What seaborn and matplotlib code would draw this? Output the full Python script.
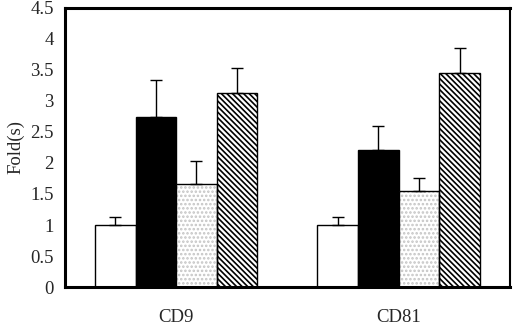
import matplotlib
matplotlib.use("Agg")
import matplotlib.pyplot as plt
import seaborn as sns
import pandas as pd
import numpy as np

categories = ["CD9", "CD81"]
conditions = ["A", "B", "C", "D"]
values_cd9 = [1.0, 2.74, 1.66, 3.13]
errors_cd9 = [0.13, 0.60, 0.37, 0.40]
values_cd81 = [1.0, 2.21, 1.55, 3.45]
errors_cd81 = [0.13, 0.38, 0.21, 0.40]
yticks = [0, 0.5, 1, 1.5, 2, 2.5, 3, 3.5, 4, 4.5]

sns.set_theme(style="white")
plt.rcParams["font.family"] = ["Liberation Serif", "DejaVu Serif"]
plt.rcParams["hatch.linewidth"] = 1.2

rows = []
for c, v in zip(conditions, values_cd9):
    rows.append({"group": "CD9", "cond": c, "value": v})
for c, v in zip(conditions, values_cd81):
    rows.append({"group": "CD81", "cond": c, "value": v})
df = pd.DataFrame(rows)
errs = {"CD9": errors_cd9, "CD81": errors_cd81}

fig = plt.figure(figsize=(5.15, 3.32), dpi=100)
ax = fig.add_axes([0.126, 0.1355, 0.864, 0.8405])

sns.barplot(data=df, x="group", y="value", hue="cond", order=categories,
            hue_order=conditions, palette=["white", "black", "white", "white"],
            errorbar=None, width=0.73, gap=0, ax=ax, legend=False,
            edgecolor="black", linewidth=1.0)

bar_containers = list(ax.containers)
for hi, cont in enumerate(bar_containers):
    for gi, p in enumerate(list(cont.patches)):
        if hi == 2:
            p.set_hatch("....")
            p.set_edgecolor("#c4c4c4")
            p.set_linewidth(0)
            ax.bar(p.get_x() + p.get_width() / 2, p.get_height(), width=p.get_width(),
                   fill=False, edgecolor="black", linewidth=1.0, zorder=p.get_zorder() + 0.1)
        elif hi == 3:
            p.set_hatch("\\\\\\\\\\\\")
            p.set_edgecolor("black")
        x = p.get_x() + p.get_width() / 2
        y = p.get_height()
        e = errs[categories[gi]][hi]
        ax.errorbar([x], [y], yerr=[[0], [e]], fmt="none", ecolor="black",
                    elinewidth=1.0, capsize=4, capthick=1.0, zorder=1)

ax.set_ylim(0, 4.5)
ax.set_xlim(-0.5, 1.5)
ax.set_yticks(yticks)
ax.set_yticklabels([("%g" % t) for t in yticks], fontsize=13.5)
ax.set_xticks([0, 1])
ax.set_xticklabels(categories, fontsize=13.5)
ax.tick_params(axis="x", length=0, pad=16)
ax.tick_params(axis="y", length=0, pad=8)
ax.set_xticks([0.5], minor=True)
ax.tick_params(axis="x", which="minor", direction="in", length=5, width=1, color="black")
ax.set_xlabel("")
ax.set_ylabel("Fold(s)", fontsize=13.5, labelpad=4)
for s in ["top", "left", "bottom"]:
    ax.spines[s].set_linewidth(2.2)
    ax.spines[s].set_color("black")
ax.spines["right"].set_linewidth(1.5)
ax.spines["right"].set_color("black")

fig.savefig("out.png", dpi=100)
